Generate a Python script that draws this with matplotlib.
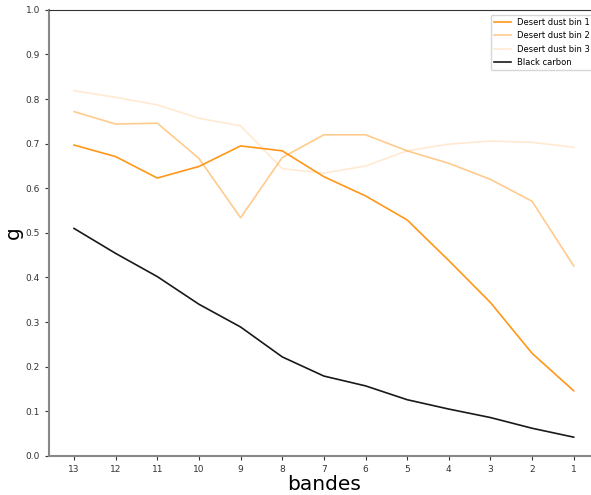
import matplotlib
matplotlib.use('Agg')
import matplotlib.pyplot as plt

# bands, plotted from 13 down to 1
bandes = ['13', '12', '11', '10', '9', '8', '7', '6', '5', '4', '3', '2', '1']

dust_bin1 = [0.697, 0.671, 0.623, 0.649, 0.695, 0.684, 0.626, 0.583, 0.529, 0.438, 0.344, 0.230, 0.146]
dust_bin2 = [0.772, 0.744, 0.746, 0.667, 0.534, 0.669, 0.720, 0.720, 0.684, 0.656, 0.620, 0.571, 0.426]
dust_bin3 = [0.819, 0.804, 0.787, 0.757, 0.740, 0.644, 0.634, 0.650, 0.684, 0.699, 0.706, 0.703, 0.692]
black_carbon = [0.510, 0.454, 0.402, 0.340, 0.289, 0.222, 0.179, 0.157, 0.126, 0.105, 0.086, 0.062, 0.042]

fig = plt.figure(figsize=(5.91, 4.95), dpi=100)
ax = fig.add_axes([0.083, 0.079, 0.93, 0.901])

ax.plot(bandes, dust_bin1, color='darkorange', alpha=0.9, lw=1.2, label='Desert dust bin 1')
ax.plot(bandes, dust_bin2, color='darkorange', alpha=0.45, lw=1.2, label='Desert dust bin 2')
ax.plot(bandes, dust_bin3, color='darkorange', alpha=0.18, lw=1.2, label='Desert dust bin 3')
ax.plot(bandes, black_carbon, color='black', alpha=0.9, lw=1.2, label='Black carbon')

ax.set_ylim(0, 1.0)
ax.set_yticks([i / 10 for i in range(11)])
ax.tick_params(labelsize=6.5, length=3, colors='#333333')
ax.set_xlabel('bandes', fontsize=14.5, labelpad=1)
ax.set_ylabel('g', fontsize=14.5, labelpad=2)

for side in ['left', 'bottom']:
    ax.spines[side].set_color('#888888')
    ax.spines[side].set_linewidth(1.5)
ax.spines['top'].set_color('#333333')

ax.legend(loc='upper right', fontsize=6, borderaxespad=0.6)

fig.savefig('out.png', dpi=100)
